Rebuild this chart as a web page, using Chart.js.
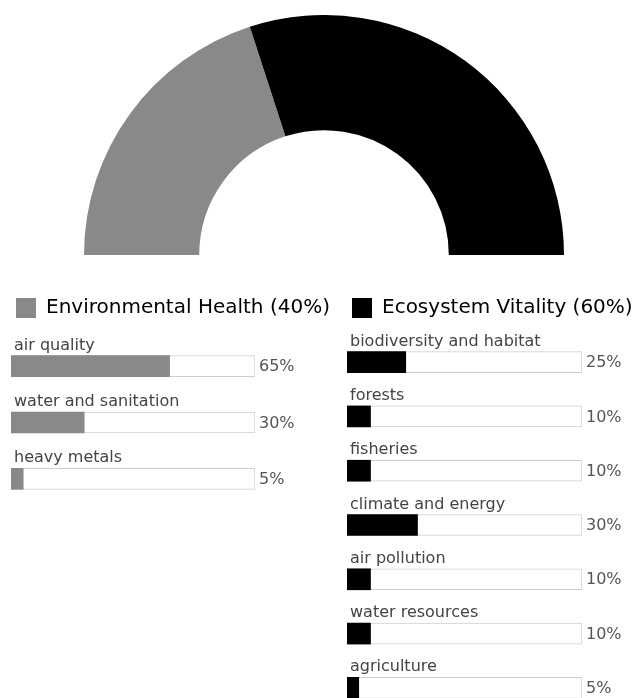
<!DOCTYPE html>
<html>
<head>
<meta charset="utf-8">
<script src="https://cdn.jsdelivr.net/npm/chart.js@4/dist/chart.umd.min.js"></script>
<style>
  html, body { margin: 0; padding: 0; background: #fff; overflow: hidden; }
  .box { position: absolute; }
  #gaugeBox { left: 84px; top: 15px; width: 480px; height: 240px; }
  #healthBox { left: 0; top: 290px; width: 340px; height: 220px; }
  #vitalityBox { left: 335px; top: 290px; width: 299px; height: 430px; }
</style>
</head>
<body>
<div class="box" id="gaugeBox"><canvas id="gauge"></canvas></div>
<div class="box" id="healthBox"><canvas id="health"></canvas></div>
<div class="box" id="vitalityBox"><canvas id="vitality"></canvas></div>
<script>
// Index groups and their weights
const groups = ['Environmental Health', 'Ecosystem Vitality'];
const groupShares = [40, 60];
const groupColors = ['#898989', '#000000'];

// Issue weights inside each group (%)
const healthLabels = ['air quality', 'water and sanitation', 'heavy metals'];
const healthValues = [65, 30, 5];

const vitalityLabels = ['biodiversity and habitat', 'forests', 'fisheries', 'climate and energy',
  'air pollution', 'water resources', 'agriculture'];
const vitalityValues = [25, 10, 10, 30, 10, 10, 5];

const FONT = '"DejaVu Sans", Verdana, sans-serif';

Chart.defaults.animation = false;
Chart.defaults.font.family = FONT;

// half doughnut on top
new Chart(document.getElementById('gauge'), {
  type: 'doughnut',
  data: {
    labels: groups,
    datasets: [{
      data: groupShares,
      backgroundColor: groupColors,
      borderWidth: 0
    }]
  },
  options: {
    responsive: true,
    maintainAspectRatio: false,
    circumference: 180,
    rotation: -90,
    cutout: '52%',
    plugins: { legend: { display: false }, tooltip: { enabled: false } }
  }
});

// label above each bar + percent after the track
const barText = {
  id: 'barText',
  afterDatasetsDraw(chart) {
    const { ctx, chartArea } = chart;
    const meta = chart.getDatasetMeta(0);
    ctx.save();
    ctx.font = '16px ' + FONT;
    ctx.textAlign = 'left';
    meta.data.forEach((bar, i) => {
      const top = bar.y - bar.height / 2;
      ctx.fillStyle = '#444';
      ctx.textBaseline = 'alphabetic';
      ctx.fillText(chart.data.labels[i], chartArea.left + 3, top - 6);
      ctx.fillStyle = '#555';
      ctx.textBaseline = 'middle';
      ctx.fillText(chart.data.datasets[0].data[i] + '%', chartArea.right + 4, bar.y + 1);
    });
    ctx.restore();
  }
};

// extra room under the legend, and let its text run to the canvas edge
const legendGap = {
  id: 'legendGap',
  beforeInit(chart, args, opts) {
    const fit = chart.legend.fit;
    chart.legend.fit = function () {
      fit.bind(chart.legend)();
      this.height += opts.gap || 0;
    };
  },
  afterLayout(chart) {
    chart.legend.right = chart.width;
    chart.legend.width = chart.width - chart.legend.left;
  }
};

function groupChart(id, gi, labels, values, pad, gap) {
  return new Chart(document.getElementById(id), {
    type: 'bar',
    data: {
      labels: labels,
      datasets: [{
        label: groups[gi],
        data: values,
        backgroundColor: groupColors[gi],
        borderWidth: 0,
        barThickness: 21,
        order: 1
      }, {
        label: 'track',
        data: labels.map(() => 100),
        backgroundColor: '#ffffff',
        borderColor: '#cfcfcf',
        borderWidth: 1,
        borderSkipped: false,
        barThickness: 21,
        order: 2
      }]
    },
    options: {
      indexAxis: 'y',
      responsive: true,
      maintainAspectRatio: false,
      layout: { padding: pad },
      datasets: { bar: { grouped: false } },
      scales: {
        x: { display: false, min: 0, max: 100 },
        y: { display: false }
      },
      plugins: {
        tooltip: { enabled: false },
        legendGap: { gap: gap },
        legend: {
          position: 'top',
          align: 'start',
          labels: {
            boxWidth: 20,
            boxHeight: 20,
            padding: 5,
            color: '#555',
            font: { size: 20 },
            generateLabels: () => [{
              text: groups[gi] + ' (' + groupShares[gi] + '%)',
              fillStyle: groupColors[gi],
              strokeStyle: groupColors[gi],
              lineWidth: 0,
              datasetIndex: 0
            }]
          }
        }
      }
    },
    plugins: [barText, legendGap]
  });
}

groupChart('health', 0, healthLabels, healthValues, { left: 11, right: 85, top: 3, bottom: 3 }, 10);
groupChart('vitality', 1, vitalityLabels, vitalityValues, { left: 12, right: 52, top: 3, bottom: 5 }, 7);
</script>
</body>
</html>
